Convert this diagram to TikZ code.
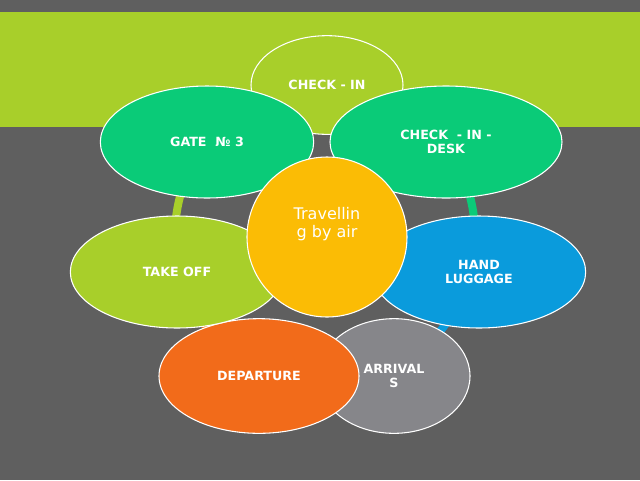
\documentclass[tikz,border=0pt]{standalone}
\usepackage{fontspec}
\setmainfont{DejaVu Sans}
\usetikzlibrary{shapes.geometric}
\definecolor{bg}{HTML}{5F5F5F}
\definecolor{lime}{HTML}{A8CF2A}
\definecolor{grn}{HTML}{0ACB78}
\definecolor{blu}{HTML}{0A9BDC}
\definecolor{gry}{HTML}{86868A}
\definecolor{org}{HTML}{F26B1A}
\definecolor{amb}{HTML}{FBBC05}
\begin{document}
\begin{tikzpicture}[x=0.75pt,y=-0.75pt,
  el/.style={ellipse,draw=white,line width=0.8pt,text=white,font=\bfseries\fontsize{9.5}{10}\selectfont,align=center,inner sep=0pt},
  ring/.style={line width=6pt}]
\fill[bg] (0,0) rectangle (640,480);
\fill[lime] (0,12) rectangle (640,127);
\coordinate (cc) at (325,235);
\path (cc) ++(-142:150) coordinate (pgate) (cc) ++(-90:150) coordinate (pci)
  (cc) ++(-37.5:150) coordinate (pdesk) (cc) ++(13.5:150) coordinate (phand)
  (cc) ++(64:150) coordinate (parr) (cc) ++(115:150) coordinate (pdep)
  (cc) ++(166:150) coordinate (pto);
\draw[ring,grn] (pgate) arc[start angle=-142,end angle=-37.5,radius=150];
\draw[ring,grn] (pdesk) arc[start angle=-37.5,end angle=13.5,radius=150];
\draw[ring,blu] (phand) arc[start angle=13.5,end angle=64,radius=150];
\draw[ring,gry] (parr) arc[start angle=64,end angle=115,radius=150];
\draw[ring,org] (pdep) arc[start angle=115,end angle=166,radius=150];
\draw[ring,lime] (pto) arc[start angle=166,end angle=218,radius=150];
\node[el,fill=lime,minimum width=114,minimum height=74] (ci) at (327,85) {CHECK - IN};
\node[el,fill=grn,minimum width=174,minimum height=84] (desk) at (446,142) {CHECK\ \ - IN -\\DESK};
\node[el,fill=blu,minimum width=160,minimum height=84] (hand) at (479,272) {HAND\\LUGGAGE};
\node[el,fill=gry,minimum width=114,minimum height=86] (arr) at (394,376) {ARRIVAL\\S};
\node[el,fill=org,minimum width=150,minimum height=86] (dep) at (259,376) {DEPARTURE};
\node[el,fill=lime,minimum width=160,minimum height=84] (to) at (177,272) {TAKE OFF};
\node[el,fill=grn,minimum width=160,minimum height=84] (gate) at (207,142) {GATE\ \ № 3};
\node[circle,fill=amb,draw=white,line width=0.8pt,minimum size=120,text=white,align=center,inner sep=0pt,font=\fontsize{12}{14}\selectfont] (tr) at (327,237) {Travellin\\g by air\\[8pt]};
\end{tikzpicture}
\end{document}
